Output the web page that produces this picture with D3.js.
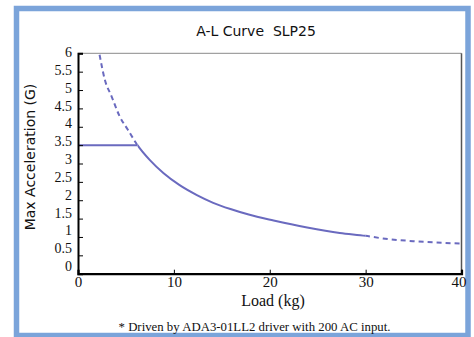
<!DOCTYPE html>
<html>
<head>
<meta charset="utf-8">
<script src="https://cdn.jsdelivr.net/npm/d3@7"></script>
<style>
  body { margin: 0; background: #fff; }
  svg { display: block; }
</style>
</head>
<body>
<div id="chart"></div>
<script>
// values
const loads  = [2.25, 2.8, 3.5, 4.35, 5.2, 6.2, 7.5, 8.9, 10.6, 12.4, 14.1, 15.9, 17.8, 20.4, 23.9, 27.3, 30, 31.8, 35.3, 40];
const accels = [5.96, 5.28, 4.83, 4.28, 3.92, 3.5, 3.09, 2.74, 2.41, 2.14, 1.93, 1.76, 1.61, 1.45, 1.26, 1.11, 1.03, 0.96, 0.88, 0.82];
const plateauAccel = 3.5;
const kneeLoad = 6.2;
const ratedLoad = 30;
const xTicks = [0, 10, 20, 30, 40];
const yTicks = [0, 0.5, 1, 1.5, 2, 2.5, 3, 3.5, 4, 4.5, 5, 5.5, 6];

const title = 'A-L Curve\u00a0\u00a0SLP25';
const xTitle = 'Load (kg)';
const yTitle = 'Max Acceleration (G)';
const note = '* Driven by ADA3-01LL2 driver with 200 AC input.';

const W = 474, H = 337;
const lineColor = '#6a6abf';
const serif = 'Liberation Serif';
const sans = 'DejaVu Sans';

const svg = d3.select('#chart')
    .append('svg')
    .attr('width', W)
    .attr('height', H);

svg.append('rect')
    .attr('width', W).attr('height', H)
    .style('fill', '#fff');

// blue frame
svg.append('rect')
    .attr('x', 16.5).attr('y', 8.5)
    .attr('width', 451.5).attr('height', 327)
    .style('fill', '#fff')
    .style('stroke', '#7ba4da')
    .style('stroke-width', 5.5);

const x = d3.scaleLinear().domain([0, 40]).range([78, 461.5]);
const y = d3.scaleLinear().domain([0, 6]).range([273.7, 53.3]);
// tick labels in the reference drift slightly above their ticks
const yLabel = d3.scaleLinear().domain([0, 6]).range([265.5, 51.5]);

const pts = loads.map((l, i) => ({ load: l, acc: accels[i] }));

// plot box: top and right lines
svg.append('line')
    .attr('x1', x(0)).attr('x2', x(40))
    .attr('y1', y(6)).attr('y2', y(6))
    .style('stroke', '#8a8a8a').style('stroke-width', 1);
svg.append('line')
    .attr('x1', x(40)).attr('x2', x(40))
    .attr('y1', y(6)).attr('y2', y(0))
    .style('stroke', '#555').style('stroke-width', 1.5);

// clip regions for the three line styles
const defs = svg.append('defs');
function clip(id, a, b) {
    defs.append('clipPath').attr('id', id)
        .append('rect')
        .attr('x', x(a)).attr('y', 0)
        .attr('width', x(b) - x(a)).attr('height', H);
}
clip('c-left', 0, kneeLoad);
clip('c-mid', kneeLoad, ratedLoad);
clip('c-right', ratedLoad, 40.2);

const line = d3.line()
    .x(d => x(d.load))
    .y(d => y(d.acc))
    .curve(d3.curveMonotoneX);

const curves = svg.append('g');
[['c-left', '5,3.5'], ['c-mid', null], ['c-right', '5,4']].forEach(([id, dash]) => {
    curves.append('path')
        .attr('d', line(pts))
        .attr('clip-path', `url(#${id})`)
        .style('fill', 'none')
        .style('stroke', lineColor)
        .style('stroke-width', 2)
        .style('stroke-dasharray', dash);
});

// flat limit
curves.append('line')
    .attr('x1', x(0)).attr('x2', x(kneeLoad))
    .attr('y1', y(plateauAccel)).attr('y2', y(plateauAccel))
    .style('stroke', lineColor)
    .style('stroke-width', 2);

// y axis
const yAxis = svg.append('g')
    .attr('transform', `translate(${x(0)},0)`)
    .call(d3.axisLeft(y).tickValues(yTicks).tickSize(-5).tickPadding(6)
        .tickFormat(d3.format('')));
yAxis.attr('font-family', serif).attr('font-size', 14);
yAxis.select('.domain').style('stroke', '#000').style('stroke-width', 2);
yAxis.selectAll('.tick line').style('stroke', '#000');
yAxis.selectAll('.tick text')
    .attr('x', -6)
    .attr('dy', d => (yLabel(d) - y(d)) + 5)
    .attr('font-family', serif)
    .style('fill', '#111');

// x axis
const xAxis = svg.append('g')
    .attr('transform', `translate(0,${y(0)})`)
    .call(d3.axisBottom(x).tickValues(xTicks).tickSize(-4).tickPadding(4));
xAxis.attr('font-family', serif).attr('font-size', 15);
xAxis.select('.domain').style('stroke', '#000').style('stroke-width', 2.2);
xAxis.selectAll('.tick line').style('stroke', '#000');
xAxis.selectAll('.tick text')
    .attr('y', 0)
    .attr('dy', 13)
    .attr('dx', d => d === 40 ? -3 : 0)
    .attr('font-family', serif)
    .style('fill', '#111');

// titles
svg.append('text')
    .attr('x', 256).attr('y', 36)
    .attr('text-anchor', 'middle')
    .attr('font-family', sans)
    .attr('font-size', 14)
    .style('fill', '#111')
    .text(title);

svg.append('text')
    .attr('transform', 'translate(35,157) rotate(-90)')
    .attr('text-anchor', 'middle')
    .attr('font-family', sans)
    .attr('font-size', 14)
    .style('fill', '#111')
    .text(yTitle);

svg.append('text')
    .attr('x', 273).attr('y', 306)
    .attr('text-anchor', 'middle')
    .attr('font-family', serif)
    .attr('font-size', 16)
    .style('fill', '#111')
    .text(xTitle);

svg.append('text')
    .attr('x', 254.5).attr('y', 331)
    .attr('text-anchor', 'middle')
    .attr('font-family', serif)
    .attr('font-size', 12.8)
    .style('fill', '#111')
    .text(note);
</script>
</body>
</html>
